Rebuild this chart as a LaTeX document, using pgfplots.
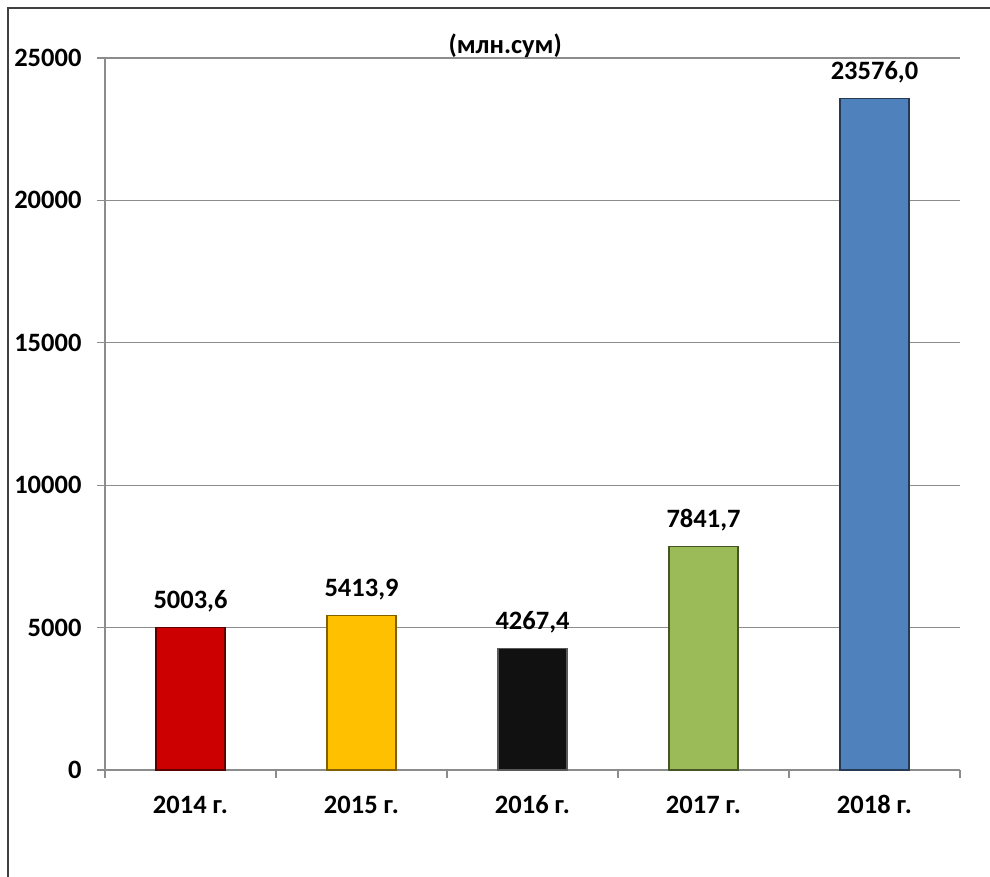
\documentclass[border=0pt]{standalone}
\usepackage{fontspec}
\setmainfont{Carlito}
\usepackage{pgfplots}
\pgfplotsset{compat=1.18}

\definecolor{barred}{HTML}{CC0000}
\definecolor{baryellow}{HTML}{FFC000}
\definecolor{barblack}{HTML}{111111}
\definecolor{bargreen}{HTML}{9BBB59}
\definecolor{barblue}{HTML}{4F81BD}
\definecolor{axgray}{HTML}{8C8C8C}

\begin{document}
\begin{tikzpicture}
\useasboundingbox (0,0) rectangle (990pt,877pt);
% outer frame (only top and left edges are inside the picture)
\draw[line width=1.6pt, black!75] (8pt,0pt) -- (8pt,869pt) -- (990pt,869pt);

\begin{axis}[
  at={(105pt,107pt)}, anchor=south west,
  scale only axis, width=855pt, height=712pt,
  xmin=-0.5, xmax=4.5,
  ymin=0, ymax=25000,
  ytick={0,5000,...,25000},
  xtick={0,1,2,3,4},
  xticklabels={2014 г.,2015 г.,2016 г.,2017 г.,2018 г.},
  minor xtick={-0.5,0.5,1.5,2.5,3.5,4.5},
  major x tick style={draw=none},
  minor tick length=8pt,
  major tick length=8pt,
  tick align=outside,
  tick style={axgray, line width=1.2pt},
  axis lines*=left,
  axis line style={axgray, line width=1.2pt},
  ymajorgrids,
  grid style={axgray, line width=1.2pt},
  font=\fontsize{26.5}{30}\selectfont\bfseries,
  tick label style={font=\fontsize{26.5}{30}\selectfont\bfseries},
  /pgf/number format/assume math mode=true,
  scaled y ticks=false,
  yticklabel style={/pgf/number format/1000 sep={}, xshift=-12pt},
  xticklabel style={yshift=-25pt, text height=0.7em, text depth=0.2em},
  ybar, bar width=69pt, bar shift=0pt,
  nodes near coords,
  point meta=y,
  nodes near coords style={anchor=base, yshift=19pt, text=black,
    font=\fontsize{26.5}{30}\selectfont\bfseries,
    /pgf/number format/.cd, fixed, fixed zerofill, precision=1, use comma, 1000 sep={}},
  clip=false,
]
\addplot[fill=barred, draw=barred!45!black, line width=1.2pt] coordinates {(0,5003.6)};
\addplot[fill=baryellow, draw=baryellow!50!black, line width=1.2pt] coordinates {(1,5413.9)};
\addplot[fill=barblack, draw=black!65, line width=1.2pt] coordinates {(2,4267.4)};
\addplot[fill=bargreen, draw=bargreen!45!black, line width=1.2pt] coordinates {(3,7841.7)};
\addplot[fill=barblue, draw=barblue!45!black, line width=1.2pt] coordinates {(4,23576.0)};

\node[anchor=base, font=\fontsize{26.5}{30}\selectfont\bfseries] at (rel axis cs:0.468,1) [yshift=4pt] {(млн.сум)};
\end{axis}
\end{tikzpicture}
\end{document}
